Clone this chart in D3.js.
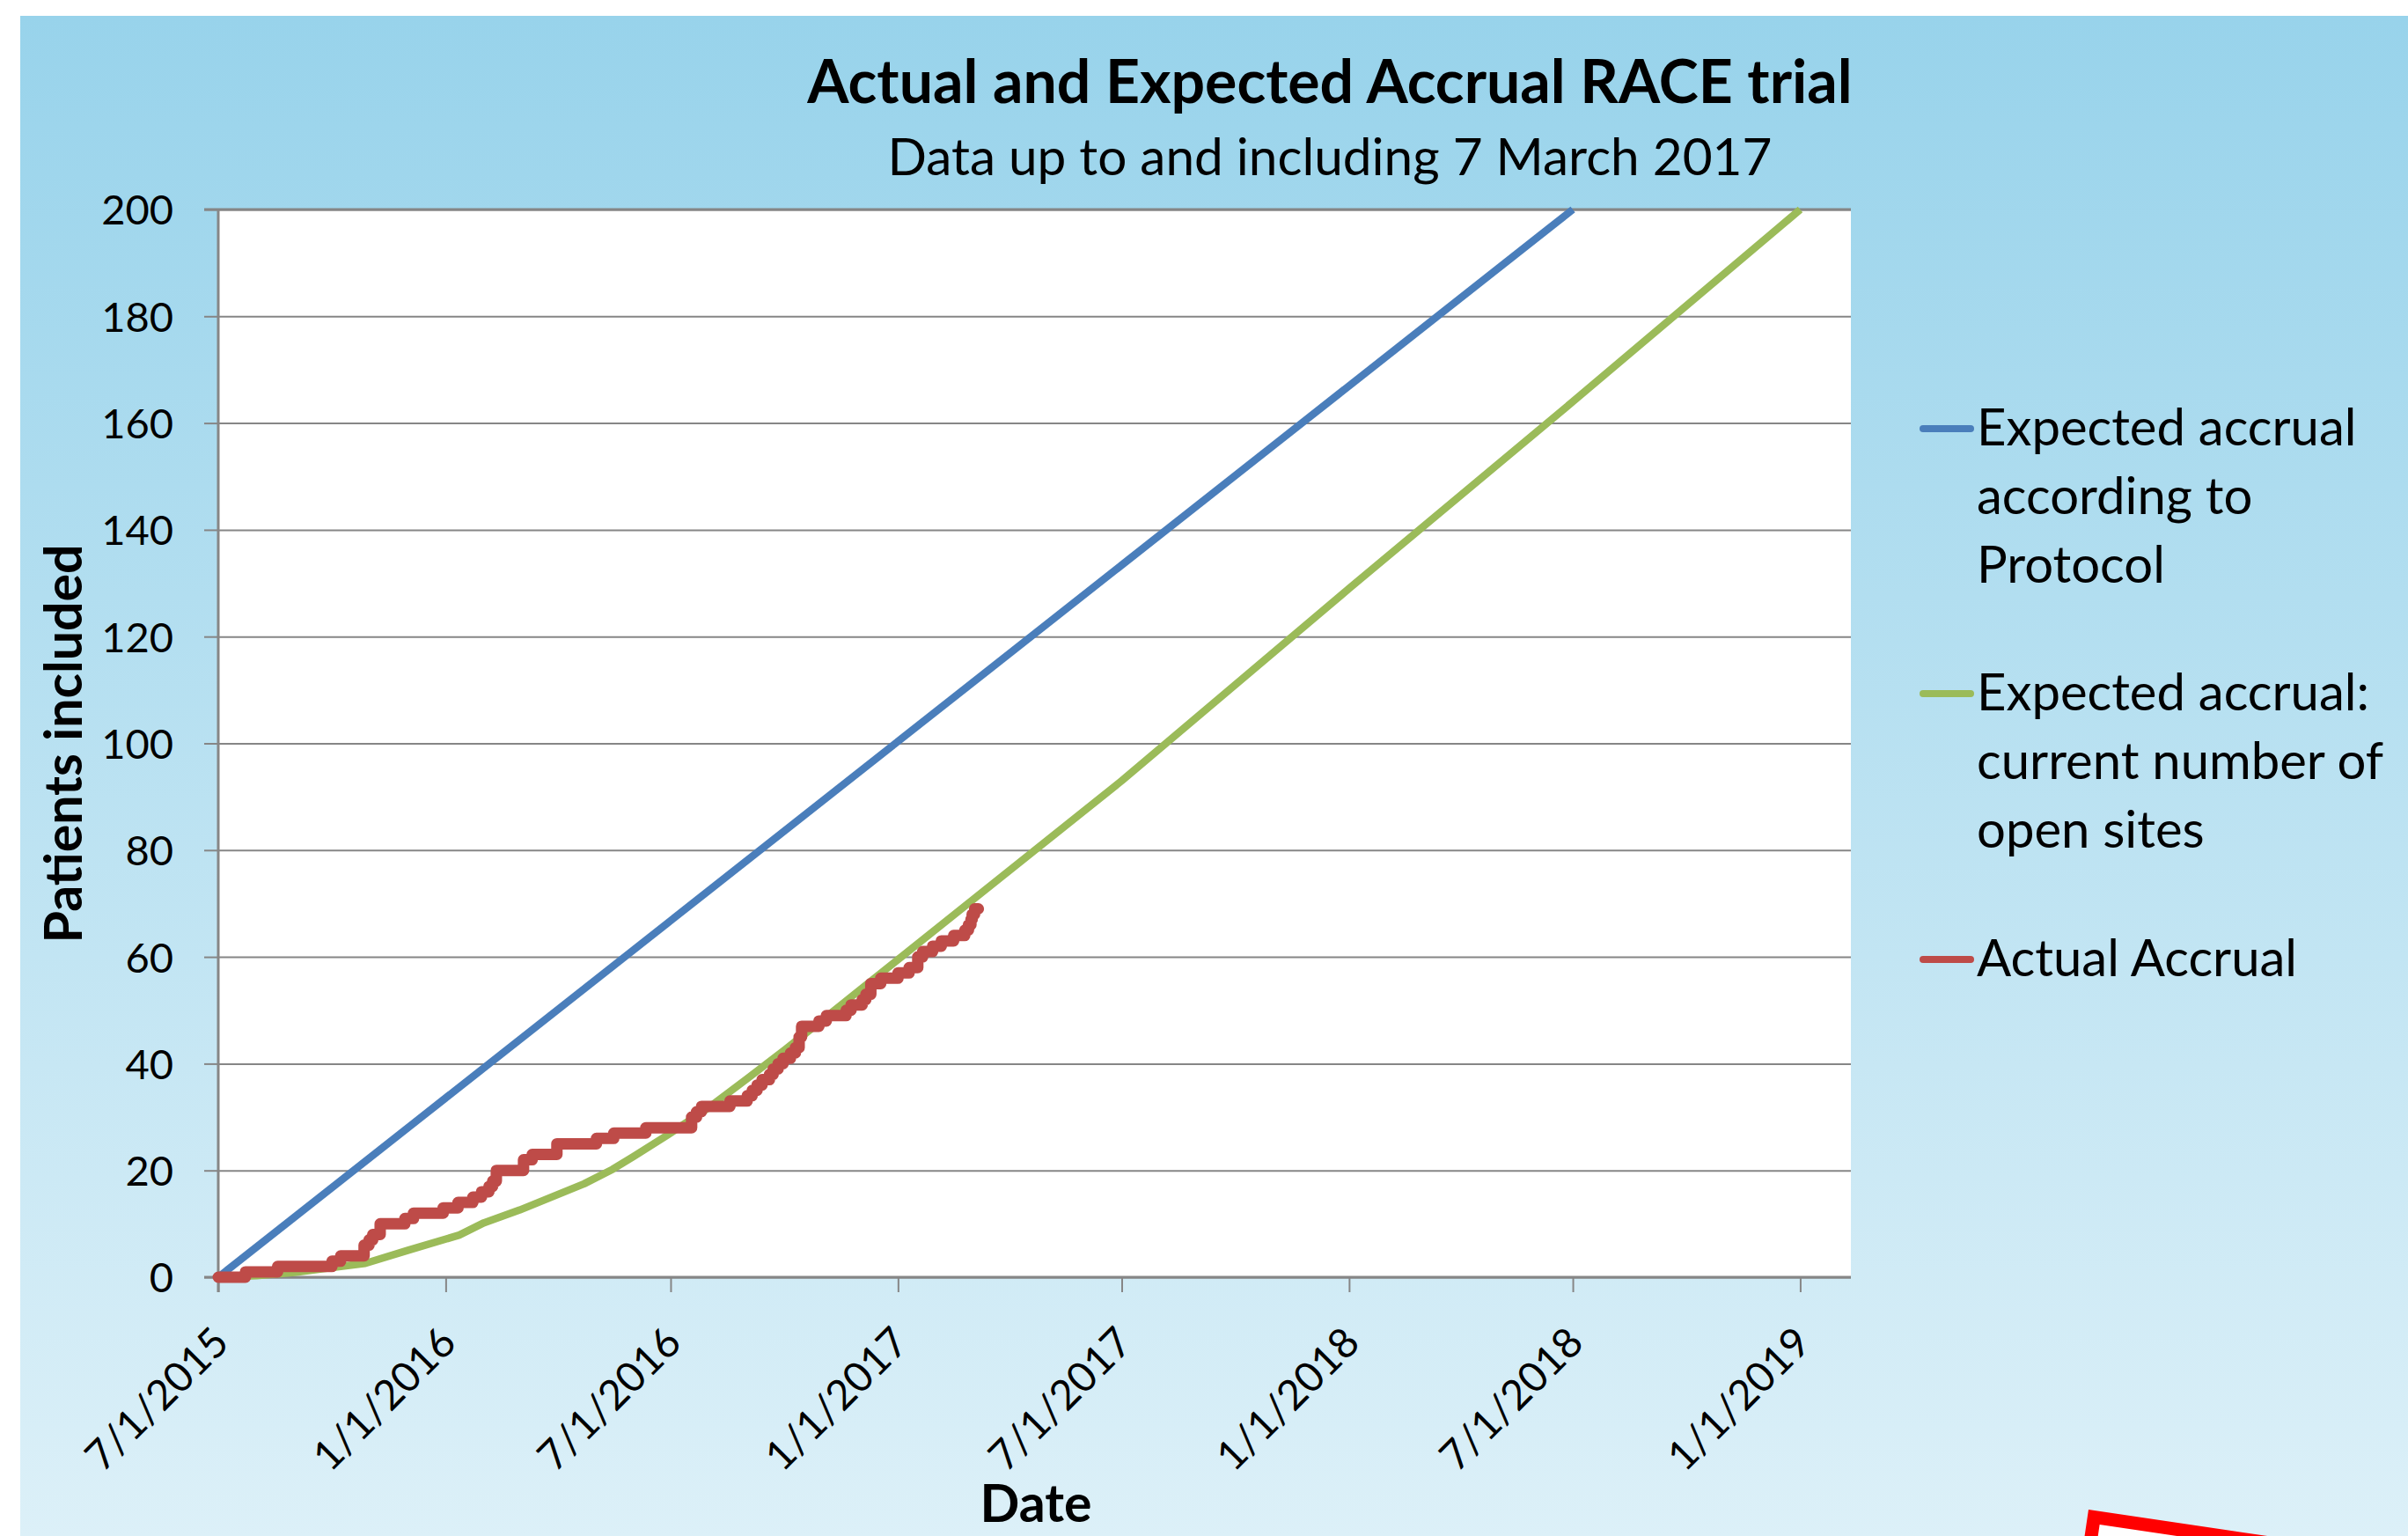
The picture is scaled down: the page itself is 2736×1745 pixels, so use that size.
<!DOCTYPE html>
<html>
<head>
<meta charset="utf-8">
<script src="https://cdn.jsdelivr.net/npm/d3@7/dist/d3.min.js"></script>
<style>
  body { margin: 0; background: #fff; }
  svg { display: block; }
  text { font-family: Lato, "Open Sans", sans-serif; fill: #000; }
</style>
</head>
<body>
<svg id="chart" width="2736" height="1745"></svg>
<script>
// values
const xTickLabels = ["7/1/2015", "1/1/2016", "7/1/2016", "1/1/2017", "7/1/2017", "1/1/2018", "7/1/2018", "1/1/2019"];
const yTickValues = [0, 20, 40, 60, 80, 100, 120, 140, 160, 180, 200];

const protocolDates = ["7/1/2015", "7/1/2018"];
const protocolValues = [0, 200];

const openSitesDates = ["7/1/2015", "8/1/2015", "9/1/2015", "10/1/2015", "10/28/2015", "12/1/2015", "1/12/2016",
  "2/1/2016", "3/1/2016", "4/22/2016", "5/15/2016", "6/1/2016", "7/1/2016", "8/1/2016", "9/1/2016", "10/1/2016",
  "11/1/2016", "12/1/2016", "1/1/2017", "7/1/2017", "1/1/2018", "7/1/2018", "1/1/2019"];
const openSitesValues = [0, 0.3, 0.9, 1.8, 2.6, 5.0, 7.9,
  10.2, 12.6, 17.5, 20.2, 22.6, 27.0, 31.8, 37.2, 42.5,
  48.2, 53.8, 59.5, 93, 129, 164, 200];

const actualDates = ["7/1/2015", "7/23/2015", "8/18/2015", "10/1/2015", "10/8/2015", "10/27/2015", "10/31/2015",
  "11/3/2015", "11/9/2015", "11/29/2015", "12/6/2015", "12/30/2015", "1/11/2016", "1/23/2016", "1/30/2016",
  "2/5/2016", "2/8/2016", "2/11/2016", "3/4/2016", "3/11/2016", "3/31/2016", "5/2/2016", "5/16/2016",
  "6/11/2016", "7/18/2016", "7/22/2016", "7/26/2016", "8/18/2016", "9/1/2016", "9/5/2016", "9/9/2016",
  "9/13/2016", "9/19/2016", "9/22/2016", "9/26/2016", "9/30/2016", "10/6/2016", "10/10/2016", "10/13/2016",
  "10/15/2016", "10/29/2016", "11/4/2016", "11/20/2016", "11/24/2016", "12/3/2016", "12/6/2016", "12/10/2016",
  "12/18/2016", "1/1/2017", "1/10/2017", "1/17/2017", "1/21/2017", "1/29/2017", "2/5/2017", "2/15/2017",
  "2/24/2017", "2/27/2017", "3/1/2017", "3/2/2017", "3/4/2017", "3/7/2017"];
const actualValues = [0, 1, 2, 3, 4, 6, 7,
  8, 10, 11, 12, 13, 14, 15, 16,
  17, 18, 20, 22, 23, 25, 26, 27,
  28, 30, 31, 32, 33, 34, 35, 36,
  37, 38, 39, 40, 41, 42, 43, 45,
  47, 48, 49, 50, 51, 52, 53, 55,
  56, 57, 58, 60, 61, 62, 63, 64,
  65, 66, 67, 68, 69, 69];

const seriesNames = [
  ["Expected accrual", "according to", "Protocol"],
  ["Expected accrual:", "current number of", "open sites"],
  ["Actual Accrual"]
];
const seriesColors = ["#4a7ebb", "#9bbb59", "#be4b48"];

const titleText = "Actual and Expected Accrual RACE trial";
const subtitleText = "Data up to and including 7 March 2017";
const xTitle = "Date";
const yTitle = "Patients included";
const xDomainEnd = "2/11/2019";

const margin = {top: 238, right: 633, bottom: 294, left: 248};
const W = 2736, H = 1745;
const width = W - margin.left - margin.right;
const height = H - margin.top - margin.bottom;

const parseDate = d3.timeParse("%m/%d/%Y");
const formatDate = d3.timeFormat("%-m/%-d/%Y");

const svg = d3.select('#chart');

// background
const grad = svg.append('defs').append('linearGradient')
  .attr('id', 'bg').attr('x1', 0).attr('y1', 0).attr('x2', 0).attr('y2', 1);
grad.append('stop').attr('offset', '0%').attr('stop-color', '#98d3eb');
grad.append('stop').attr('offset', '100%').attr('stop-color', '#dcf0f8');

svg.append('rect').attr('x', 23).attr('y', 18).attr('width', W - 23).attr('height', H - 18)
  .attr('fill', 'url(#bg)');

const g = svg.append('g').attr('transform', `translate(${margin.left},${margin.top})`);

g.append('rect').attr('width', width).attr('height', height).attr('fill', '#fff');

const x = d3.scaleTime()
  .domain([parseDate(xTickLabels[0]), parseDate(xDomainEnd)])
  .range([0, width]);
const y = d3.scaleLinear().domain([0, 200]).range([height, 0]);

// gridlines + y axis
const yAxis = g.append('g')
  .call(d3.axisLeft(y).tickValues(yTickValues).tickSize(-width).tickPadding(0).tickFormat(''));
yAxis.select('.domain').remove();
yAxis.selectAll('.tick line').attr('stroke', '#868686').attr('stroke-width', 2);
yAxis.selectAll('.tick').append('line')
  .attr('x1', -16).attr('x2', 0).attr('stroke', '#868686').attr('stroke-width', 2);
yAxis.selectAll('.tick').append('text')
  .attr('x', -51).attr('dy', '0.36em').attr('text-anchor', 'end')
  .style('font-size', '47px').text(d => d);

const xAxis = g.append('g').attr('transform', `translate(0,${height})`)
  .call(d3.axisBottom(x).tickValues(xTickLabels.map(parseDate)).tickSize(17).tickFormat(''));
xAxis.select('.domain').remove();
xAxis.selectAll('.tick line').attr('stroke', '#868686').attr('stroke-width', 2);
xAxis.selectAll('.tick').append('text')
  .attr('text-anchor', 'end')
  .attr('transform', 'translate(14,77) rotate(-45)')
  .style('font-size', '47px')
  .text(d => formatDate(d));

// axis lines
g.append('line').attr('x1', 0).attr('x2', 0).attr('y1', 0).attr('y2', height + 17)
  .attr('stroke', '#868686').attr('stroke-width', 3);
g.append('line').attr('x1', -16).attr('x2', width).attr('y1', height).attr('y2', height)
  .attr('stroke', '#868686').attr('stroke-width', 3);
g.append('line').attr('x1', -16).attr('x2', width).attr('y1', 0).attr('y2', 0)
  .attr('stroke', '#868686').attr('stroke-width', 3);

// series
const line = d3.line().x(d => x(d[0])).y(d => y(d[1]));
const stepLine = d3.line().x(d => x(d[0])).y(d => y(d[1])).curve(d3.curveStepAfter);

const protocolData = protocolDates.map((d, i) => [parseDate(d), protocolValues[i]]);
const sitesData = openSitesDates.map((d, i) => [parseDate(d), openSitesValues[i]]);
const actualData = actualDates.map((d, i) => [parseDate(d), actualValues[i]]);

g.append('path').datum(protocolData).attr('d', line)
  .attr('fill', 'none').attr('stroke', seriesColors[0]).attr('stroke-width', 8.5);
g.append('path').datum(sitesData).attr('d', line)
  .attr('fill', 'none').attr('stroke', seriesColors[1]).attr('stroke-width', 8.5)
  .attr('stroke-linejoin', 'round');
g.append('path').datum(actualData).attr('d', stepLine)
  .attr('fill', 'none').attr('stroke', seriesColors[2]).attr('stroke-width', 13)
  .attr('stroke-linejoin', 'round').attr('stroke-linecap', 'round');

// titles
svg.append('text').attr('x', 1511).attr('y', 117).attr('text-anchor', 'middle')
  .style('font-size', '68px').style('font-weight', 'bold').text(titleText);
svg.append('text').attr('x', 1511).attr('y', 199).attr('text-anchor', 'middle')
  .style('font-size', '58.5px').text(subtitleText);
svg.append('text').attr('transform', 'translate(93,845) rotate(-90)').attr('text-anchor', 'middle')
  .style('font-size', '59px').style('font-weight', 'bold').text(yTitle);
svg.append('text').attr('x', 1177).attr('y', 1729).attr('text-anchor', 'middle')
  .style('font-size', '59px').style('font-weight', 'bold').text(xTitle);

// legend
const legendY = [487, 788, 1090];
const legend = svg.append('g');
seriesNames.forEach((lines, i) => {
  legend.append('line').attr('x1', 2185).attr('x2', 2239)
    .attr('y1', legendY[i]).attr('y2', legendY[i])
    .attr('stroke', seriesColors[i]).attr('stroke-width', 8).attr('stroke-linecap', 'round');
  const t = legend.append('text').attr('x', 2246).attr('y', legendY[i] + 19)
    .style('font-size', '58px');
  t.selectAll('tspan').data(lines).enter().append('tspan')
    .attr('x', 2246).attr('dy', (d, j) => j === 0 ? 0 : 78).text(d => d);
});

// red stamp in the lower right corner
svg.append('g').attr('transform', 'translate(2373,1715) rotate(8.4)')
  .append('rect').attr('x', 7.5).attr('y', 7.5).attr('width', 600).attr('height', 300)
  .attr('fill', '#fefefe').attr('stroke', '#ff0000').attr('stroke-width', 15);
</script>
</body>
</html>
